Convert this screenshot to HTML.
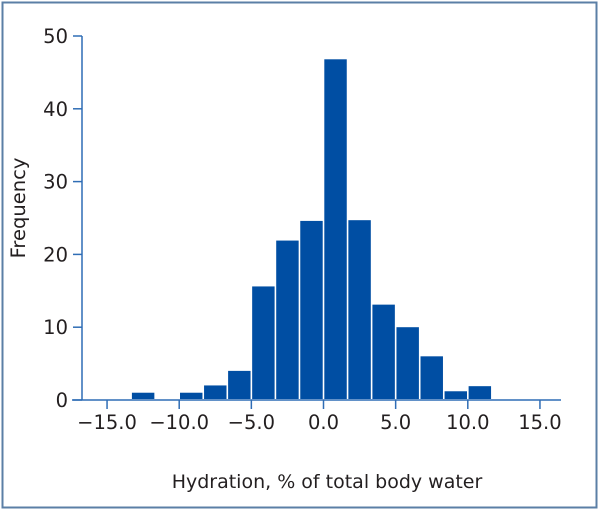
<!DOCTYPE html>
<html><head><meta charset="utf-8"><style>
html,body{margin:0;padding:0;background:#fff;}
svg{display:block;font-family:"DejaVu Sans","Liberation Sans",sans-serif;}
</style></head><body>
<svg width="600" height="515" viewBox="0 0 600 515">
<rect x="2.5" y="2.5" width="594" height="505" fill="#fff" stroke="#5b7fa6" stroke-width="2"/>
<g id="axes"></g>
<g id="bars"></g>
<text x="25" y="208" font-size="19.5" fill="#231f20" text-anchor="middle" transform="rotate(-90 25 208)">Frequency</text>
<text x="327" y="488" font-size="19" fill="#231f20" text-anchor="middle">Hydration, % of total body water</text>
</svg>
<script>
const binStart = -13.333;
const binWidth = 1.6667;
const frequencies = [1, 0, 1, 2, 4, 15.6, 21.9, 24.6, 46.8, 24.7, 13.1, 10, 6, 1.2, 1.9];
const xTicks = [-15, -10, -5, 0, 5, 10, 15];
const xTickLabels = ["\u221215.0", "\u221210.0", "\u22125.0", "0.0", "5.0", "10.0", "15.0"];
const yTicks = [0, 10, 20, 30, 40, 50];

const NS = "http://www.w3.org/2000/svg";
const xS = v => 323.5 + v * 14.43;
const yS = v => 400 - v * 7.28;
function mk(tag, attrs, parent) {
  const e = document.createElementNS(NS, tag);
  for (const k in attrs) e.setAttribute(k, attrs[k]);
  parent.appendChild(e);
  return e;
}
const axes = document.getElementById("axes");
const bars = document.getElementById("bars");
const blue = "#2f6db5";

frequencies.forEach((f, i) => {
  if (f <= 0) return;
  const x0 = xS(binStart + i * binWidth), x1 = xS(binStart + (i + 1) * binWidth);
  const r = mk("rect", {x: x0 + 0.8, y: yS(f), width: x1 - x0 - 1.6, height: yS(0) - yS(f) - 1, fill: "#004ea3"}, bars);
  
  
});

const ya = mk("line", {x1: 82, y1: yS(50), x2: 82, y2: yS(0), stroke: blue, "stroke-width": 1.5}, axes);


const xa = mk("line", {x1: 72, y1: yS(0), x2: 561, y2: yS(0), stroke: blue, "stroke-width": 1.5}, axes);



yTicks.forEach(v => {
  const t = mk("line", {x1: 73, y1: yS(v), x2: 82, y2: yS(v), stroke: blue, "stroke-width": 1.5}, axes);
  
  
  const l = mk("text", {x: 68, y: yS(v) + 7, "font-size": 19.5, fill: "#231f20", "text-anchor": "end"}, axes);
  l.textContent = String(v);
  
  
});
xTicks.forEach((v, i) => {
  const t = mk("line", {x1: xS(v), y1: yS(0), x2: xS(v), y2: yS(0) + 9, stroke: blue, "stroke-width": 1.5}, axes);
  
  
  const l = mk("text", {x: xS(v), y: 429, "font-size": 19.5, fill: "#231f20", "text-anchor": "middle"}, axes);
  l.textContent = xTickLabels[i];
  
  
});
</script>
</body></html>
